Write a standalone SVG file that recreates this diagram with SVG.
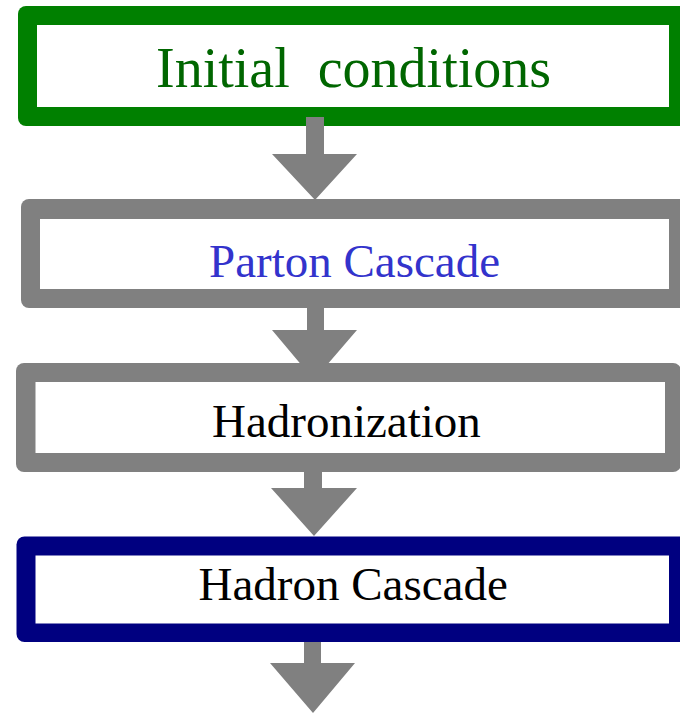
<svg xmlns="http://www.w3.org/2000/svg" width="680" height="713" viewBox="0 0 680 713">
  <style>
    .label { font-family: "Liberation Serif", "Times New Roman", serif; font-size: 47px; }
    .inner { fill: #ffffff; }
    .arrow { fill: #808080; }
  </style>
  <rect width="680" height="713" fill="#ffffff"/>

  <g id="initial-conditions">
    <rect x="18" y="6" width="680" height="120" rx="8" fill="#008000"/>
    <rect class="inner" x="37" y="25" width="632" height="82"/>
    <text class="label" x="156" y="87" fill="#006600" style="font-size:56px;white-space:pre" xml:space="preserve">Initial  conditions</text>
  </g>

  <g id="parton-cascade">
    <rect x="21" y="199" width="680" height="109" rx="8" fill="#808080"/>
    <rect class="inner" x="40" y="219" width="629" height="70"/>
    <text class="label" x="209" y="277" fill="#3333cc">Parton Cascade</text>
  </g>

  <g id="hadronization">
    <rect x="16" y="363" width="665" height="109" rx="8" fill="#808080"/>
    <rect class="inner" x="35.5" y="382" width="629.5" height="71"/>
    <text class="label" x="212" y="437" fill="#000000">Hadronization</text>
  </g>

  <g id="hadron-cascade">
    <rect x="16.5" y="536.5" width="680" height="105.5" rx="8" fill="#000080"/>
    <rect class="inner" x="35.5" y="555.5" width="633.5" height="68"/>
    <text class="label" x="198.5" y="600" fill="#000000">Hadron Cascade</text>
  </g>

  <g id="connectors">
    <polygon class="arrow" points="306,117 324,117 324,154 357,154 315,200 272,154 306,154"/>
    <polygon class="arrow" points="307,296 324,296 324,330 357,330 314,380 272,330 307,330"/>
    <polygon class="arrow" points="304,472 322,472 322,488 357,488 314,536 271,488 304,488"/>
    <polygon class="arrow" points="304,642 321,642 321,663 355,663 313,713 270,663 304,663"/>
  </g>
</svg>
